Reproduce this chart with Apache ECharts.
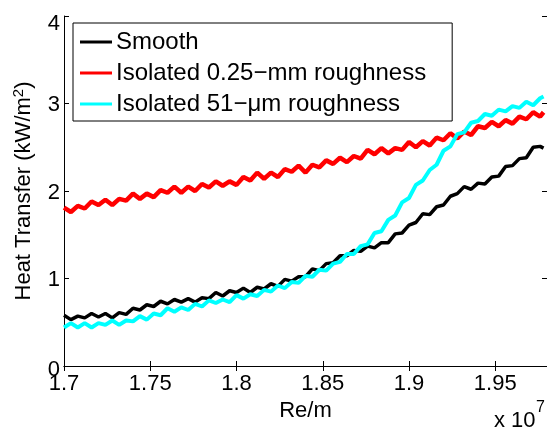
<!DOCTYPE html>
<html><head><meta charset="utf-8">
<script src="https://cdn.jsdelivr.net/npm/echarts@6/dist/echarts.min.js"></script>
<style>html,body{margin:0;padding:0;background:#fff}#c{width:547px;height:428px}</style>
</head><body><div id="c"></div>
<script>
// Re/m (x 10^7)
const reValues = [1.700,1.704,1.708,1.712,1.716,1.720,1.724,1.728,1.732,1.736,
  1.740,1.744,1.748,1.752,1.756,1.760,1.764,1.768,1.772,1.776,
  1.780,1.784,1.788,1.792,1.796,1.800,1.804,1.808,1.812,1.816,
  1.820,1.824,1.828,1.832,1.836,1.840,1.844,1.848,1.852,1.856,
  1.860,1.864,1.868,1.872,1.876,1.880,1.884,1.888,1.892,1.896,
  1.900,1.904,1.908,1.912,1.916,1.920,1.924,1.928,1.932,1.936,
  1.940,1.944,1.948,1.952,1.956,1.960,1.964,1.968,1.972,1.976,1.978];
// Heat transfer (kW/m^2)
const smooth = [0.58,0.53,0.57,0.55,0.60,0.56,0.60,0.55,0.61,0.59,
  0.66,0.64,0.70,0.68,0.74,0.71,0.76,0.73,0.77,0.73,
  0.78,0.77,0.84,0.80,0.86,0.84,0.89,0.84,0.90,0.88,
  0.94,0.91,0.99,0.97,1.02,1.02,1.11,1.09,1.17,1.18,
  1.26,1.26,1.32,1.31,1.37,1.35,1.41,1.41,1.51,1.52,
  1.61,1.64,1.74,1.73,1.82,1.84,1.94,1.97,2.05,2.02,
  2.09,2.08,2.16,2.17,2.28,2.29,2.37,2.38,2.50,2.51,2.49];
const rough025 = [1.81,1.76,1.83,1.80,1.88,1.84,1.90,1.84,1.91,1.89,
  1.97,1.91,1.97,1.93,2.01,1.98,2.05,1.98,2.05,2.00,
  2.08,2.04,2.11,2.06,2.11,2.07,2.16,2.12,2.21,2.14,
  2.21,2.16,2.25,2.22,2.29,2.21,2.30,2.27,2.35,2.31,
  2.38,2.33,2.40,2.37,2.47,2.42,2.49,2.43,2.49,2.47,
  2.56,2.50,2.57,2.52,2.61,2.58,2.66,2.60,2.68,2.64,
  2.74,2.72,2.79,2.74,2.81,2.77,2.85,2.82,2.90,2.85,2.90];
const rough51 = [0.44,0.49,0.44,0.49,0.44,0.49,0.47,0.52,0.47,0.52,
  0.51,0.57,0.53,0.60,0.58,0.66,0.62,0.67,0.64,0.71,
  0.68,0.75,0.72,0.76,0.73,0.81,0.77,0.82,0.80,0.87,
  0.85,0.92,0.89,0.96,0.95,1.03,1.02,1.10,1.09,1.17,
  1.19,1.28,1.28,1.37,1.39,1.52,1.54,1.67,1.72,1.87,
  1.92,2.07,2.12,2.24,2.30,2.46,2.51,2.65,2.67,2.78,
  2.80,2.88,2.86,2.93,2.91,2.97,2.95,3.02,2.98,3.06,3.08];
const seriesNames = ['Smooth','Isolated 0.25\u2212mm roughness','Isolated 51\u2212\u03bcm roughness'];
const seriesColors = ['#000000','#ff0000','#00ffff'];
const seriesWidths = [3.5, 4.5, 4];

const FONT = 'Liberation Sans, Arial, Helvetica, sans-serif';
const chart = echarts.init(document.getElementById('c'), null, {renderer:'canvas'});
const allY = [smooth, rough025, rough51];

const xCommon = {
  type:'value', min:1.7, max:1.98, interval:0.05,
  axisLine:{show:true, lineStyle:{color:'#000', width:1}},
  axisTick:{show:true, inside:true, length:5, lineStyle:{color:'#000'}},
  splitLine:{show:false}
};
const yCommon = {
  type:'value', min:0, max:4, interval:1,
  axisLine:{show:true, lineStyle:{color:'#000', width:1}},
  axisTick:{show:true, inside:true, length:5, lineStyle:{color:'#000'}},
  splitLine:{show:false}
};

chart.setOption({
  animation:false,
  backgroundColor:'#fff',
  grid:{left:64, right:-3, top:16, bottom:62, containLabel:false},
  legend:{
    orient:'vertical', left:73, top:23,
    data:seriesNames,
    icon:'rect', itemWidth:32, itemHeight:3, itemGap:7,
    backgroundColor:'#fff', borderColor:'#000', borderWidth:1,
    padding:[7,26,5,7],
    textStyle:{fontFamily:FONT, fontSize:24, color:'#000', lineHeight:24, padding:[0,0,0,-1]}
  },
  xAxis:[
    Object.assign({}, xCommon, {
      position:'bottom',
      name:'Re/m', nameLocation:'middle', nameGap:27,
      nameTextStyle:{fontFamily:FONT, fontSize:22, color:'#000'},
      axisLabel:{show:true, margin:7, fontFamily:FONT, fontSize:22, color:'#000',
        showMaxLabel:false,
        formatter:v => String(+v.toFixed(2))}
    }),
    Object.assign({}, xCommon, {position:'top', axisLabel:{show:false}})
  ],
  yAxis:[
    Object.assign({}, yCommon, {
      position:'left',
      name:'Heat Transfer (kW/m{sup|2})', nameLocation:'middle', nameGap:21,
      nameTextStyle:{fontFamily:FONT, fontSize:22, color:'#000', lineHeight:26,
        rich:{sup:{fontFamily:FONT, fontSize:15, color:'#000', verticalAlign:'top', lineHeight:26}}},
      axisLabel:{show:true, margin:4, fontFamily:FONT, fontSize:22, color:'#000',
        formatter:v => v===4 ? '{t|4}' : (v===0 ? '{b|0}' : '{n|'+v+'}'),
        rich:{
          t:{fontFamily:FONT, fontSize:22, color:'#000', padding:[16,0,0,0]},
          b:{fontFamily:FONT, fontSize:22, color:'#000', padding:[7,0,0,0]},
          n:{fontFamily:FONT, fontSize:22, color:'#000', padding:[3,0,0,0]}
        }}
    }),
    Object.assign({}, yCommon, {position:'right', axisLabel:{show:false}})
  ],
  graphic:[
    {type:'text', left:494, top:410, style:{text:'x 10', font:'22px '+FONT, fill:'#000'}},
    {type:'text', left:536, top:400, style:{text:'7', font:'16px '+FONT, fill:'#000'}}
  ],
  series: seriesNames.map((n,k) => ({
    name:n, type:'line', xAxisIndex:0, yAxisIndex:0,
    showSymbol:false, symbol:'none', clip:true,
    lineStyle:{color:seriesColors[k], width:seriesWidths[k]},
    itemStyle:{color:seriesColors[k]},
    data: reValues.map((x,i) => [x, allY[k][i]])
  }))
});
</script></body></html>
